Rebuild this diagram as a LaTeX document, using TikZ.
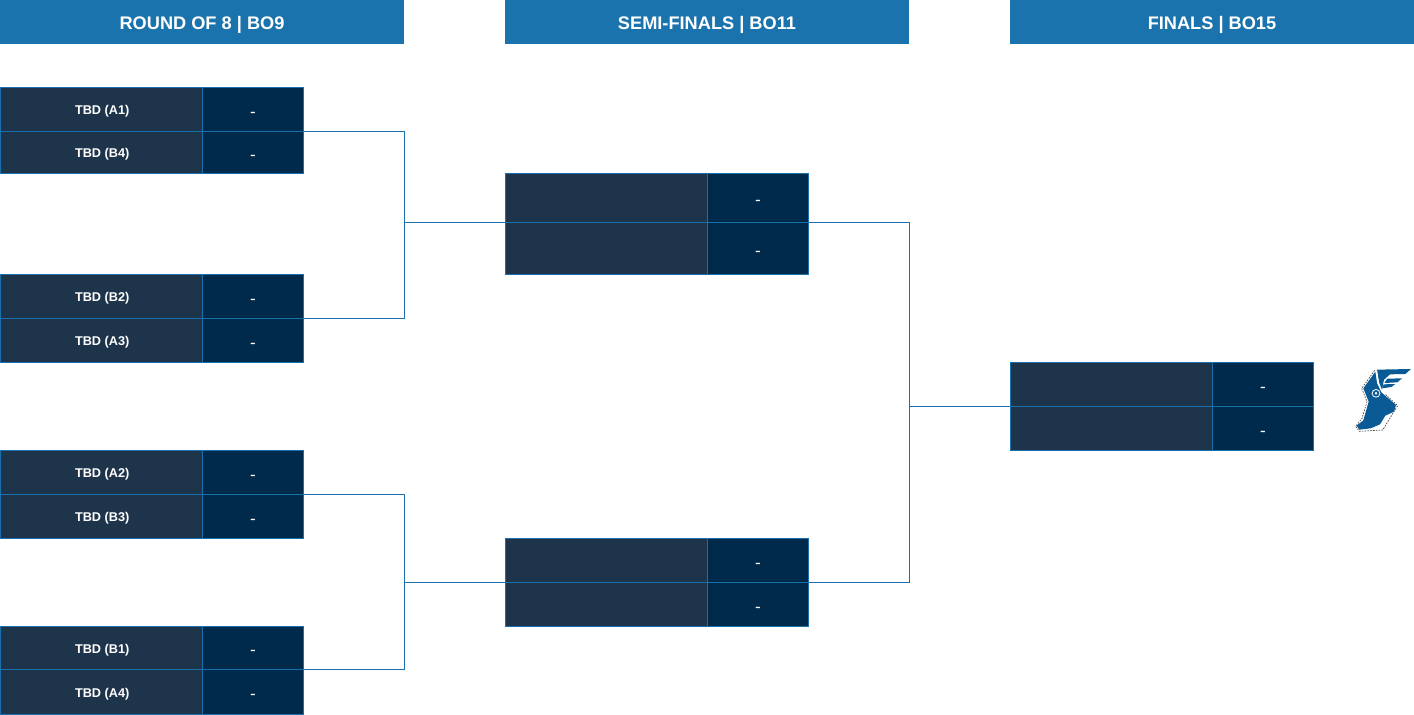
\documentclass[tikz,border=0pt]{standalone}
\usepackage{fontspec}
\setmainfont{Liberation Sans}
\definecolor{hdr}{HTML}{1A73AD}
\definecolor{edge}{HTML}{1A70AC}
\definecolor{namebg}{HTML}{1E344B}
\definecolor{scorebg}{HTML}{002A4B}
\definecolor{wing}{HTML}{0A5A96}
\newcommand{\lowered}[2]{\smash{\raisebox{-#1pt}{#2}}}
\tikzset{
  header/.style={fill=hdr,inner sep=0pt,outer sep=0pt,minimum width=404pt,minimum height=44pt,anchor=north west,text=white,font=\bfseries\fontsize{18.2}{20}\selectfont},
  namecell/.style={draw=edge,line width=1pt,fill=namebg,inner sep=0pt,outer sep=0pt,anchor=north west,text=white,font=\bfseries\fontsize{12.7}{14}\selectfont,minimum width=202pt},
  scorecell/.style={draw=edge,line width=1pt,fill=scorebg,inner sep=0pt,outer sep=0pt,anchor=north west,text=white,font=\fontsize{17}{18}\selectfont,minimum width=101pt},
  link/.style={draw=edge,line width=1pt},
}
% #1 name, #2 x, #3 top, #4 middle, #5 bottom, #6 first label, #7 second label
\newcommand{\matchup}[7]{%
  \pgfmathsetmacro{\hA}{#4-#3}\pgfmathsetmacro{\hB}{#5-#4}\pgfmathsetmacro{\xB}{#2+202}%
  \node[namecell,minimum height=\hA pt] (#1na) at (#2,#3) {\hspace{1.4pt}\lowered{5}{#6}};
  \node[scorecell,minimum height=\hA pt] (#1sa) at (\xB,#3) {\lowered{7.5}{-}};
  \node[namecell,minimum height=\hB pt] (#1nb) at (#2,#4) {\hspace{1.4pt}\lowered{5}{#7}};
  \node[scorecell,minimum height=\hB pt] (#1sb) at (\xB,#4) {\lowered{7.5}{-}};
}
\begin{document}
\begin{tikzpicture}[x=1pt,y=-1pt]
\useasboundingbox (0,0) rectangle (1414,715);
\node[header] (h1) at (0,0) {\lowered{7}{ROUND OF 8 | BO9}};
\node[header] (h2) at (505,0) {\lowered{7}{SEMI-FINALS | BO11}};
\node[header] (h3) at (1010,0) {\lowered{7}{FINALS | BO15}};

\coordinate (b1) at (404.5,222.5);
\coordinate (b2) at (404.5,582.5);
\coordinate (b3) at (909.5,406.5);

\matchup{ma}{0.5}{87.5}{131.5}{173.5}{TBD (A1)}{TBD (B4)}
\matchup{mb}{0.5}{274.5}{318.5}{362.5}{TBD (B2)}{TBD (A3)}
\matchup{mc}{0.5}{450.5}{494.5}{538.5}{TBD (A2)}{TBD (B3)}
\matchup{md}{0.5}{626.5}{669.5}{714.5}{TBD (B1)}{TBD (A4)}
\matchup{se}{505.5}{173.5}{222.5}{274.5}{}{}
\matchup{sf}{505.5}{538.5}{582.5}{626.5}{}{}
\matchup{fi}{1010.5}{362.5}{406.5}{450.5}{}{}

\draw[link] (masa.south east) -| (b1) |- (mbsa.south east);
\draw[link] (mcsa.south east) -| (b2) |- (mdsa.south east);
\draw[link] (b1) -- (sena.south west);
\draw[link] (b2) -- (sfna.south west);
\draw[link] (sesa.south east) -| (b3) |- (sfsa.south east);
\draw[link] (b3) -- (fina.south west);

% logo, traced in px of the 3x crop at (1340,355)
\begin{scope}[shift={(1340,355)},x=0.3333pt,y=-0.3333pt]
\draw[black!80,line width=0.6pt,dash pattern=on 1.6pt off 1.2pt,line join=round]
  (104,46)--(65,100)--(81,140)--(66,190)--(47,214)--(58,229)--(128,225)--(173,152)--(136,118);
\fill[wing] (106,50)--(111,84)--(124,112)--(168,150)--(162,170)--(136,182)--(120,208)--(92,220)--(58,224)--(50,212)--(70,196)--(86,140)--(70,100)--cycle;
\fill[wing] (110,44)--(213,42)--(196,57)--(150,58)--(132,74)--(126,104)--(118,84)--cycle;
\fill[wing] (142,71)--(186,70)--(172,82)--(133,84)--cycle;
\fill[wing] (131,88)--(166,87)--(154,96)--(126,100)--cycle;
\draw[white,line width=1pt] (110,46)--(116,92);
\fill[white] (108,115) circle (13);
\filldraw[fill=white,draw=wing,line width=1.8pt] (108,115) circle (7);
\end{scope}
\end{tikzpicture}
\end{document}
